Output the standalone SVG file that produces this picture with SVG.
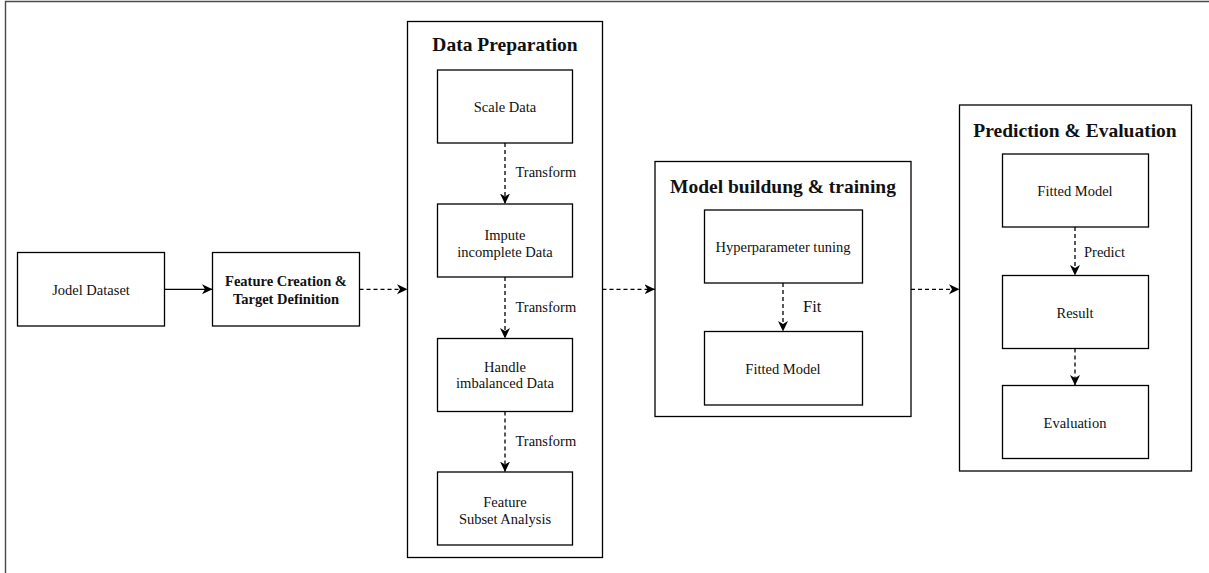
<svg xmlns="http://www.w3.org/2000/svg" width="1209" height="573" viewBox="0 0 1209 573">
  <style>
    .box { fill: #ffffff; stroke: #000000; stroke-width: 1.3; }
    .group { fill: #ffffff; stroke: #000000; stroke-width: 1.3; }
    .frame { fill: none; stroke: #4a4a4a; stroke-width: 1.4; }
    text { font-family: "Liberation Serif", "Times New Roman", serif; fill: #111111; }
    .lbl { font-size: 14.5px; text-anchor: middle; }
    .bold { font-size: 14.5px; font-weight: bold; text-anchor: middle; }
    .title { font-size: 19.5px; font-weight: bold; text-anchor: middle; }
    .edge { font-size: 14.5px; text-anchor: start; }
    .edge-big { font-size: 16.5px; text-anchor: start; }
    .solid { fill: none; stroke: #000000; stroke-width: 1.3; }
    .dash { fill: none; stroke: #000000; stroke-width: 1.3; stroke-dasharray: 4 3; }
  </style>
  <defs>
    <marker id="arrow" markerUnits="userSpaceOnUse" markerWidth="12" markerHeight="12" refX="10.5" refY="5.5" orient="auto">
      <path d="M10.5,5.5 L0,0.5 L3,5.5 L0,10.5 Z" fill="#000000"/>
    </marker>
  </defs>

  <rect x="0" y="0" width="1209" height="573" fill="#ffffff"/>
  <!-- outer frame edges -->
  <path class="frame" d="M5.5,573 L5.5,1.5 L1209,1.5"/>

  <!-- containers -->
  <g id="data-preparation">
    <rect class="group" x="407.5" y="21.5" width="195" height="536"/>
    <text class="title" x="505" y="50.5">Data Preparation</text>
  </g>
  <g id="model-building">
    <rect class="group" x="655" y="161.5" width="256" height="255"/>
    <text class="title" x="783" y="193">Model buildung &amp; training</text>
  </g>
  <g id="prediction-evaluation">
    <rect class="group" x="959.5" y="105" width="232" height="366"/>
    <text class="title" x="1075" y="137">Prediction &amp; Evaluation</text>
  </g>

  <!-- nodes -->
  <g id="jodel-dataset">
    <rect class="box" x="17.5" y="252.5" width="147" height="73.5"/>
    <text class="lbl" x="91" y="294.8">Jodel Dataset</text>
  </g>
  <g id="feature-creation">
    <rect class="box" x="212.5" y="252.5" width="147" height="73.5"/>
    <text class="bold" x="286" y="285.8">Feature Creation &amp;</text>
    <text class="bold" x="286" y="303.5">Target Definition</text>
  </g>
  <g id="scale-data">
    <rect class="box" x="437.5" y="70" width="135" height="73"/>
    <text class="lbl" x="505" y="111.7">Scale Data</text>
  </g>
  <g id="impute-data">
    <rect class="box" x="437.5" y="204" width="135" height="73"/>
    <text class="lbl" x="505" y="239.5">Impute</text>
    <text class="lbl" x="505" y="256.5">incomplete Data</text>
  </g>
  <g id="handle-imbalanced">
    <rect class="box" x="437.5" y="338.5" width="135" height="73"/>
    <text class="lbl" x="505" y="371.5">Handle</text>
    <text class="lbl" x="505" y="388">imbalanced Data</text>
  </g>
  <g id="feature-subset">
    <rect class="box" x="437.5" y="472" width="135" height="73"/>
    <text class="lbl" x="505" y="506.5">Feature</text>
    <text class="lbl" x="505" y="523.5">Subset Analysis</text>
  </g>
  <g id="hyperparameter-tuning">
    <rect class="box" x="704.5" y="210" width="158" height="73"/>
    <text class="lbl" x="783" y="252">Hyperparameter tuning</text>
  </g>
  <g id="fitted-model-train">
    <rect class="box" x="704.5" y="331.5" width="158" height="73.5"/>
    <text class="lbl" x="783" y="373.5">Fitted Model</text>
  </g>
  <g id="fitted-model-predict">
    <rect class="box" x="1002.5" y="154" width="146" height="73"/>
    <text class="lbl" x="1075" y="196">Fitted Model</text>
  </g>
  <g id="result">
    <rect class="box" x="1002.5" y="275.5" width="146" height="73"/>
    <text class="lbl" x="1075" y="317.5">Result</text>
  </g>
  <g id="evaluation">
    <rect class="box" x="1002.5" y="385.5" width="146" height="73"/>
    <text class="lbl" x="1075" y="427.5">Evaluation</text>
  </g>

  <!-- connectors -->
  <g id="connectors">
    <path class="solid" d="M164.5,289.3 L212.5,289.3" marker-end="url(#arrow)"/>
    <path class="dash" d="M359.5,289.3 L407.5,289.3" marker-end="url(#arrow)"/>
    <path class="dash" d="M602.5,289.3 L655,289.3" marker-end="url(#arrow)"/>
    <path class="dash" d="M911,289.3 L959.5,289.3" marker-end="url(#arrow)"/>

    <path class="dash" d="M505,143 L505,204" marker-end="url(#arrow)"/>
    <text class="edge" x="515.5" y="177">Transform</text>
    <path class="dash" d="M505,277 L505,338.5" marker-end="url(#arrow)"/>
    <text class="edge" x="515.5" y="311.5">Transform</text>
    <path class="dash" d="M505,411.5 L505,472" marker-end="url(#arrow)"/>
    <text class="edge" x="515.5" y="446">Transform</text>

    <path class="dash" d="M783,283 L783,331.5" marker-end="url(#arrow)"/>
    <text class="edge-big" x="803" y="312">Fit</text>

    <path class="dash" d="M1075,227 L1075,275.5" marker-end="url(#arrow)"/>
    <text class="edge" x="1084" y="256.5">Predict</text>
    <path class="dash" d="M1075,348.5 L1075,385.5" marker-end="url(#arrow)"/>
  </g>
</svg>
